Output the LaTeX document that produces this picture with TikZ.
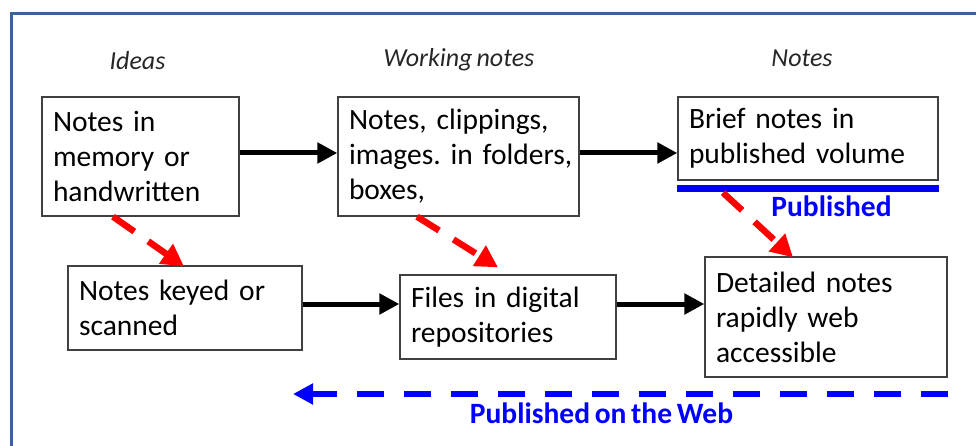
\documentclass[tikz,border=0pt]{standalone}
\usepackage{fontspec}
\setmainfont[WordSpace=0.7]{Carlito}
\usetikzlibrary{arrows.meta,calc}
\definecolor{framecol}{HTML}{3B6395}
\definecolor{boxline}{HTML}{404040}
\definecolor{pubblue}{HTML}{0000FF}
\definecolor{arrred}{HTML}{FF0000}
\frenchspacing
\begin{document}
\begin{tikzpicture}[x=1pt,y=-1pt,
  box/.style={draw=boxline, line width=1.3pt, rectangle, inner xsep=11pt, inner ysep=0pt,
    align=left, font=\fontsize{29.5}{35}\selectfont\frenchspacing},
  hdr/.style={font=\fontsize{26}{31}\selectfont\itshape, anchor=base, text=black!85},
  pub/.style={font=\fontsize{29.5}{35}\selectfont\bfseries, anchor=base, text=pubblue},
  blk/.style={line width=5pt, -{Triangle[length=20pt,width=20pt]}},
  reddash/.style={draw=arrred, line width=6.5pt, dash pattern=on 26pt off 17pt,
    -{Triangle[length=22pt,width=23pt]}},
  bluedash/.style={draw=pubblue, line width=6pt, dash pattern=on 27pt off 20pt,
    -{Triangle[length=20pt,width=20pt]}},
  frame/.style={draw=framecol, line width=3pt}
]
\useasboundingbox (0,0) rectangle (976,446);
\clip (0,0) rectangle (976,446);
\draw[frame] (11.5,13.5) rectangle (1000,470);

% headers
\node[hdr] (hIdeas) at (137.5,70) {Ideas};
\node[hdr] (hWork) at (459,67) {Working notes};
\node[hdr] (hNotes) at (802,67) {Notes};

% boxes
\node[box, text width=175pt, minimum width=197pt, minimum height=119pt] (b1) at (140.5,156.5)
  {\mbox{Notes in}\\\mbox{memory or}\\\mbox{handwritten}};
\node[box, text width=219pt, minimum width=241pt, minimum height=119pt] (b2) at (458.5,156.5)
  {\mbox{Notes, clippings,}\\\mbox{images. in folders,}\\\mbox{boxes,}};
\node[box, text width=238pt, minimum width=260pt, minimum height=83pt] (b3) at (808,138.5)
  {\mbox{Brief notes in}\\\mbox{published volume}};
\node[box, text width=212pt, minimum width=234pt, minimum height=84pt] (b4) at (185,308)
  {\mbox{Notes keyed or}\\\mbox{scanned}};
\node[box, text width=194pt, minimum width=216pt, minimum height=84pt] (b5) at (508,317)
  {\mbox{Files in digital}\\\mbox{repositories}};
\node[box, text width=220pt, minimum width=242pt, minimum height=120pt] (b6) at (826,317)
  {\mbox{Detailed notes}\\\mbox{rapidly web}\\\mbox{accessible}};

% row levels
\coordinate (r1) at (0,153);
\coordinate (r2) at (0,304);
\coordinate (r3) at (0,394);

% black arrows
\draw[blk] (b1.east |- r1) -- (b2.west |- r1);
\draw[blk] (b2.east |- r1) -- (b3.west |- r1);
\draw[blk] (b4.east |- r2) -- (b5.west |- r2);
\draw[blk] (b5.east |- r2) -- (b6.west |- r2);

% published line and label
\draw[draw=pubblue, line width=7pt] ($(b3.south west)+(0,8)$) coordinate (pl) -- ($(b3.south east)+(0,8)$) coordinate (pr);
\node[pub] (lPub) at (831.5,217) {Published};

% red dashed arrows
\coordinate (s3) at ($(b3.south)+(-85,12)$);
\draw[reddash] ($(b1.south)+(-27.5,0)$) -- ($(b4.north)+(-1,1)$);
\draw[reddash] ($(b2.south)+(-41.5,0)$) -- ($(b5.north)+(-10,-7)$);
\draw[reddash] (s3) -- ($(b6.north)+(-33,1)$);

% web arrow
\coordinate (wl) at (293,394);
\draw[bluedash] (b6.east |- r3) -- (wl);
\node[pub] (lWeb) at (601.5,423) {Published on the Web};
\end{tikzpicture}
\end{document}
